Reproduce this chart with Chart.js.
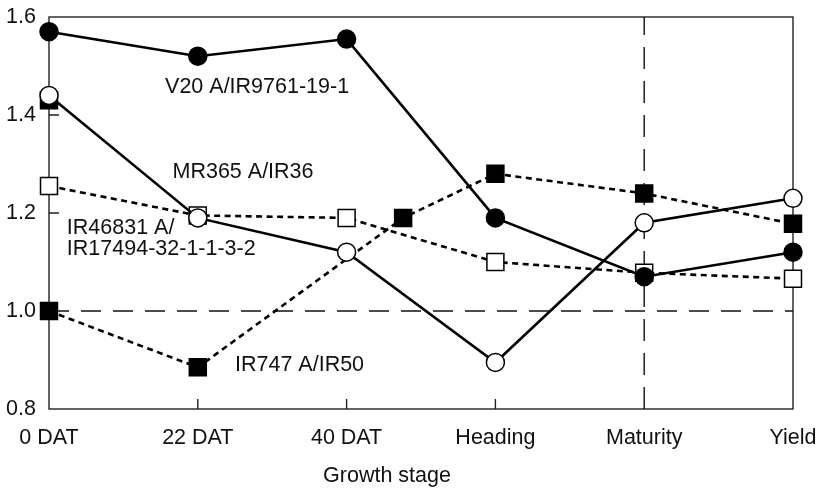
<!DOCTYPE html>
<html>
<head>
<meta charset="utf-8">
<script src="https://cdn.jsdelivr.net/npm/chart.js@4.4.1/dist/chart.umd.min.js"></script>
<style>
  html, body { margin: 0; padding: 0; background: #fff; }
  #wrap { width: 831px; height: 489px; }
</style>
</head>
<body>
<div id="wrap"><canvas id="ratioChart"></canvas></div>
<script>
// Growth stages, placed at 0..5 on a linear x scale
const stages = ['0 DAT', '22 DAT', '40 DAT', 'Heading', 'Maturity', 'Yield'];
const stageIndex = [0, 1, 2, 3, 4, 5];

const v20 = [1.57, 1.52, 1.555, 1.19, 1.07, 1.12];
const mr365 = [1.44, 1.19, 1.12, 0.895, 1.18, 1.23];
const ir46831 = [1.255, 1.195, 1.19, 1.10, 1.078, 1.066];
// IR747 has an extra sample between 40 DAT and heading
const ir747X = [0, 1, 2.38, 3, 4, 5];
const ir747 = [1.0, 0.885, 1.19, 1.28, 1.24, 1.178];
const extraSquare = [1.43];

const yTicks = [0.8, 1.0, 1.2, 1.4, 1.6];
const refLevel = 1.0;
const refStage = 4;

// series names written inside the plot (data units)
const seriesLabels = [
    { lines: ['V20 A/IR9761-19-1'], x: 0.78, y: 1.457 },
    { lines: ['MR365 A/IR36'], x: 0.83, y: 1.283 },
    { lines: ['IR46831 A/', 'IR17494-32-1-1-3-2'], x: 0.12, y: 1.169 },
    { lines: ['IR747 A/IR50'], x: 1.25, y: 0.89 }
];
const xTitle = 'Growth stage';

const FONT = '"Liberation Sans", Arial, sans-serif';
const FONT_SIZE = 21.5;
const INK = '#111';

function pts(xs, ys) {
    return ys.map((y, i) => ({ x: xs[i], y: y }));
}

const framePlugin = {
    id: 'frame',
    beforeDatasetsDraw(chart) {
        const { ctx, chartArea: a, scales } = chart;
        ctx.save();
        ctx.strokeStyle = '#222';
        ctx.lineWidth = 1.4;
        ctx.strokeRect(a.left, a.top, a.right - a.left, a.bottom - a.top);

        // short inward tick marks
        ctx.beginPath();
        scales.y.ticks.forEach(t => {
            if (t.value <= 0.8 || t.value >= 1.6 || t.value === refLevel) return;
            const py = scales.y.getPixelForValue(t.value);
            ctx.moveTo(a.left, py);
            ctx.lineTo(a.left + 10, py);
        });
        scales.x.ticks.forEach(t => {
            if (t.value <= 0 || t.value >= 5 || t.value === refStage) return;
            const px = scales.x.getPixelForValue(t.value);
            ctx.moveTo(px, a.bottom);
            ctx.lineTo(px, a.bottom - 10);
        });
        ctx.stroke();
        ctx.restore();
    },
    afterDatasetsDraw(chart) {
        const { ctx, chartArea: a, scales } = chart;
        ctx.save();
        ctx.fillStyle = INK;
        ctx.font = FONT_SIZE + 'px ' + FONT;
        ctx.textAlign = 'left';
        ctx.textBaseline = 'middle';
        seriesLabels.forEach(l => {
            const px = scales.x.getPixelForValue(l.x);
            const py = scales.y.getPixelForValue(l.y);
            l.lines.forEach((s, i) => ctx.fillText(s, px, py + i * 21));
        });
        ctx.textAlign = 'center';
        ctx.fillText(xTitle, a.left + 338, 476);
        ctx.restore();
    }
};

const solid = (data, fill) => ({
    data: data,
    borderColor: '#000',
    borderWidth: 2.6,
    pointStyle: 'circle',
    pointRadius: 9,
    pointBorderWidth: 1.5,
    pointBackgroundColor: fill,
    pointBorderColor: '#000',
    clip: false
});

const dotted = (data, fill) => ({
    data: data,
    borderColor: '#000',
    borderWidth: 2.6,
    borderDash: [6, 4.5],
    pointStyle: 'rect',
    pointRadius: 12,
    pointBorderWidth: 1.5,
    pointBackgroundColor: fill,
    pointBorderColor: '#000',
    clip: false
});

const ctx = document.getElementById('ratioChart').getContext('2d');
new Chart(ctx, {
    type: 'line',
    data: {
        datasets: [
            Object.assign(solid(pts(stageIndex, v20), '#000'), { label: 'V20 A/IR9761-19-1' }),
            Object.assign(solid(pts(stageIndex, mr365), '#fff'), { label: 'MR365 A/IR36' }),
            Object.assign(dotted(pts(stageIndex, ir46831), '#fff'), { label: 'IR46831 A/IR17494-32-1-1-3-2' }),
            Object.assign(dotted(pts(ir747X, ir747), '#000'), { label: 'IR747 A/IR50' }),
            Object.assign(dotted(pts(stageIndex, extraSquare), '#000'), { label: '', showLine: false }),
            {
                label: 'ref level',
                data: [{ x: 0, y: refLevel }, { x: 5, y: refLevel }],
                borderColor: '#111',
                borderWidth: 1.4,
                borderDash: [20, 12],
                pointRadius: 0
            },
            {
                label: 'ref stage',
                data: [{ x: refStage, y: 0.8 }, { x: refStage, y: 1.6 }],
                borderColor: '#111',
                borderWidth: 1.4,
                borderDash: [22, 12],
                pointRadius: 0
            }
        ]
    },
    options: {
        responsive: true,
        maintainAspectRatio: false,
        animation: false,
        layout: { padding: { top: 17, right: 38, bottom: 0, left: 0 } },
        plugins: { legend: { display: false }, tooltip: { enabled: false } },
        elements: { line: { tension: 0 } },
        scales: {
            x: {
                type: 'linear',
                min: 0,
                max: 5,
                afterBuildTicks: s => { s.ticks = stageIndex.map(v => ({ value: v })); },
                afterFit: s => { s.height = 80; s.paddingLeft = 0; s.paddingRight = 0; },
                grid: { display: false, drawTicks: false },
                border: { display: false },
                ticks: {
                    padding: 16,
                    color: INK,
                    font: { family: FONT, size: FONT_SIZE },
                    maxRotation: 0,
                    callback: v => stages[v]
                }
            },
            y: {
                min: 0.8,
                max: 1.6,
                afterBuildTicks: s => { s.ticks = yTicks.map(v => ({ value: v })); },
                afterFit: s => { s.width = 49; s.paddingTop = 0; s.paddingBottom = 0; },
                grid: { display: false, drawTicks: false },
                border: { display: false },
                ticks: {
                    padding: 13,
                    color: INK,
                    font: { family: FONT, size: FONT_SIZE },
                    callback: v => v.toFixed(1)
                }
            }
        }
    },
    plugins: [framePlugin]
});
</script>
</body>
</html>
